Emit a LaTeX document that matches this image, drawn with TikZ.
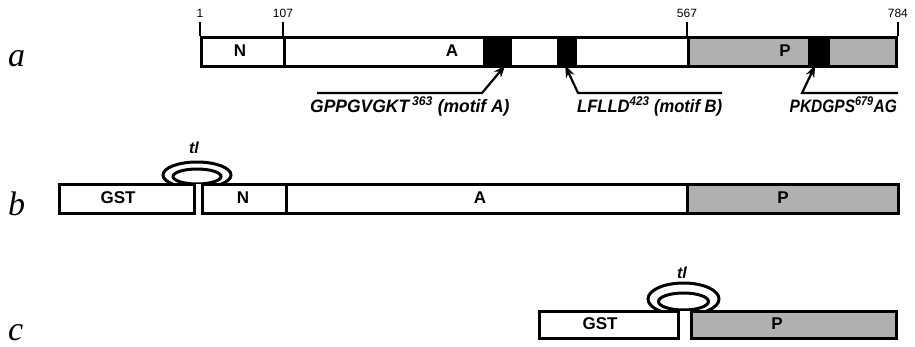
\documentclass[tikz,border=0pt]{standalone}
\usepackage{fontspec}
\setmainfont{Liberation Sans}
\newfontfamily\letterfont{Liberation Serif}
\usetikzlibrary{arrows.meta}
\definecolor{pgray}{RGB}{176,176,176}
\tikzset{
  seg/.style={draw, fill=white, line width=2.9pt, inner sep=0pt, minimum height=29pt, anchor=north west},
  gseg/.style={seg, fill=pgray},
  blk/.style={fill=black, inner sep=0pt, minimum height=29pt, anchor=north west},
  tick/.style={line width=2.4pt},
  num/.style={font=\fontsize{12}{13}\selectfont, inner sep=0pt, anchor=base},
  lab/.style={font=\fontsize{17}{19}\selectfont\bfseries, inner sep=0pt},
  mot/.style={font=\fontsize{18}{20}\selectfont\bfseries\itshape, inner sep=0pt},
  rowl/.style={font=\letterfont\itshape\fontsize{34}{36}\selectfont, inner sep=0pt, anchor=base west},
  tlab/.style={font=\fontsize{16}{18}\selectfont\bfseries\itshape, inner sep=0pt},
  arr/.style={line width=2.2pt, -{Stealth[length=12pt,width=9pt]}},
  loopline/.style={line width=3pt}
}
\begin{document}
\begin{tikzpicture}[x=1pt,y=-1pt]
\useasboundingbox (0,0) rectangle (915,346);

% ---------- row a ----------
\node[rowl] (la) at (8,66) {a};
\node[seg, minimum width=83pt] (aN) at (200,36) {};
\node[seg, minimum width=404pt] (aA) at (283,36) {};
\node[gseg, minimum width=208pt] (aP) at (687,36) {};
\node[blk, minimum width=29pt] (mA) at (483,36) {};
\node[blk, minimum width=20pt] (mB) at (557,36) {};
\node[blk, minimum width=22pt] (mP) at (808,36) {};
\draw[tick] (aN.north west) -- ++(0,-14) node[num, above=3pt] (n1) {1};
\draw[tick] (aA.north west) -- ++(0,-14) node[num, above=3pt] (n107) {107};
\draw[tick] (aP.north west) -- ++(0,-14) node[num, above=3pt] (n567) {567};
\draw[tick] (aP.north east) -- ++(0,-14) node[num, above=3pt] (n784) {784};
\node[lab] (taN) at (240,50.5) {N};
\node[lab] (taA) at (452,50.5) {A};
\node[lab] (taP) at (785,50.5) {P};

\coordinate (sA) at (317,93);
\coordinate (eA) at (482,93);
\draw[arr] (sA) -- (eA) -- ([xshift=7.5pt]mA.south);
\coordinate (sB) at (722,93);
\coordinate (eB) at (578,93);
\draw[arr] (sB) -- (eB) -- ([xshift=-2pt]mB.south);
\coordinate (sP) at (898,93);
\coordinate (eP) at (802,93);
\draw[arr] (sP) -- (eP) -- ([xshift=-4pt]mP.south);
\node[mot, anchor=base west] (txA) at (310,112) {\scalebox{0.97}[1]{GPPGVGKT\,\textsuperscript{363} (motif A)}};
\node[mot, anchor=base west] (txB) at (577,112) {\scalebox{0.92}[1]{LFLLD\textsuperscript{423} (motif B)}};
\node[mot, anchor=base east] (txP) at (897,112) {\scalebox{0.86}[1]{PKDGPS\textsuperscript{679}AG}};

% ---------- row b ----------
\node[rowl] (lb) at (8,215) {b};
\begin{scope}
  \clip (150,140) rectangle (245,183);
  \draw[loopline] (197,175) ellipse [x radius=34pt, y radius=13pt];
  \draw[loopline] (197,176.5) ellipse [x radius=24pt, y radius=7.5pt];
\end{scope}
\node[seg, minimum width=135pt] (bG) at (58,183) {};
\node[seg, minimum width=84pt] (bN) at (201,183) {};
\node[seg, minimum width=401pt] (bA) at (285,183) {};
\node[gseg, minimum width=211pt] (bP) at (686,183) {};
\node[lab] (tbG) at (118,197.5) {GST};
\node[lab] (tbN) at (243,197.5) {N};
\node[lab] (tbA) at (480,197.5) {A};
\node[lab] (tbP) at (783,197.5) {P};
\node[tlab] (tlb) at (194,148) {tl};

% ---------- row c ----------
\node[rowl] (lc) at (8,340) {c};
\begin{scope}
  \clip (630,265) rectangle (740,310);
  \draw[loopline] (683.5,299) ellipse [x radius=35.5pt, y radius=16pt];
  \draw[loopline] (683.5,301.5) ellipse [x radius=25pt, y radius=8.5pt];
\end{scope}
\node[seg, minimum width=139pt, minimum height=27pt] (cG) at (538,310) {};
\node[gseg, minimum width=205pt, minimum height=27pt] (cP) at (690,310) {};
\node[lab] (tcG) at (600,323.5) {GST};
\node[lab] (tcP) at (777,323.5) {P};
\node[tlab] (tlc) at (682,273) {tl};
\end{tikzpicture}
\end{document}
